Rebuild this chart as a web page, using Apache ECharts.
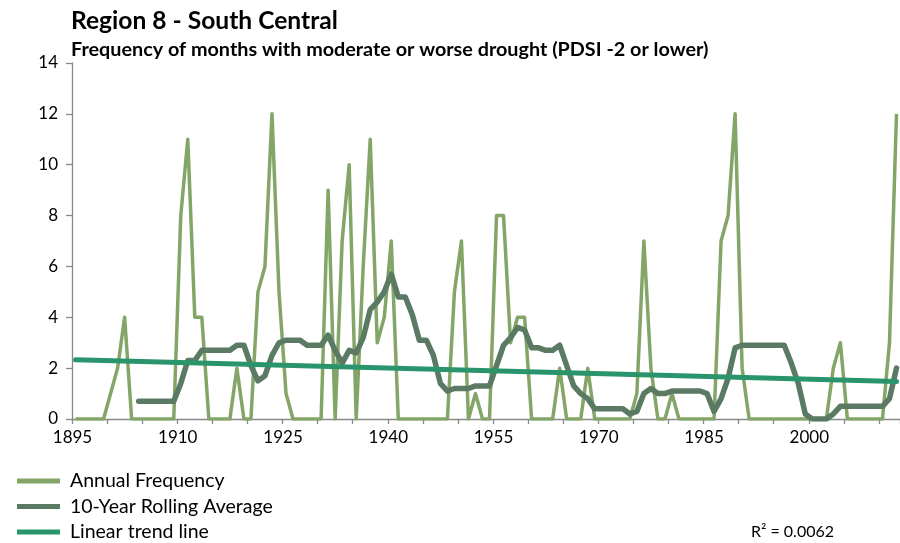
<!DOCTYPE html>
<html>
<head>
<meta charset="utf-8">
<script src="https://cdn.jsdelivr.net/npm/echarts@6/dist/echarts.min.js"></script>
<style>html,body{margin:0;padding:0;background:#fff}#chart{width:900px;height:543px}</style>
</head>
<body>
<div id="chart"></div>
<script>
// Categories: years 1895–2012
const years = [];
for (let y = 1895; y <= 2012; y++) years.push(String(y));

// Annual frequency (months with PDSI <= -2)
const annualFrequency = [
  0,0,0,0,0,1,2,4,0,0,      // 1895-1904
  0,0,0,0,0,8,11,4,4,0,     // 1905-1914
  0,0,0,2,0,0,5,6,12,5,     // 1915-1924
  1,0,0,0,0,0,9,0,7,10,     // 1925-1934
  0,6,11,3,4,7,0,0,0,0,     // 1935-1944
  0,0,0,0,5,7,0,1,0,0,      // 1945-1954
  8,8,3,4,4,0,0,0,0,2,      // 1955-1964
  0,0,0,2,0,0,0,0,0,0,      // 1965-1974
  1,7,2,0,0,1,0,0,0,0,      // 1975-1984
  0,0,7,8,12,2,0,0,0,0,     // 1985-1994
  0,0,0,0,0,0,0,0,2,3,      // 1995-2004
  0,0,0,0,0,0,3,12          // 2005-2012
];

// 10-year rolling average
const rollingAverage = [
  null,null,null,null,null,null,null,null,null,0.7,
  0.7,0.7,0.7,0.7,0.7,1.4,2.3,2.3,2.7,2.7,
  2.7,2.7,2.7,2.9,2.9,2.1,1.5,1.7,2.5,3.0,
  3.1,3.1,3.1,2.9,2.9,2.9,3.3,2.7,2.2,2.7,
  2.6,3.2,4.3,4.6,5.0,5.7,4.8,4.8,4.1,3.1,
  3.1,2.5,1.4,1.1,1.2,1.2,1.2,1.3,1.3,1.3,
  2.1,2.9,3.2,3.6,3.5,2.8,2.8,2.7,2.7,2.9,
  2.1,1.3,1.0,0.8,0.4,0.4,0.4,0.4,0.4,0.2,
  0.3,1.0,1.2,1.0,1.0,1.1,1.1,1.1,1.1,1.1,
  1.0,0.3,0.8,1.6,2.8,2.9,2.9,2.9,2.9,2.9,
  2.9,2.9,2.2,1.4,0.2,0,0,0,0.2,0.5,
  0.5,0.5,0.5,0.5,0.5,0.5,0.8,2.0
];

// Linear trend line end values (first and last year)
const trendStart = 2.33;
const trendEnd = 1.47;
const trendData = years.map((y, i) => i === 0 ? trendStart : (i === years.length - 1 ? trendEnd : null));

const seriesNames = ['Annual Frequency', '10-Year Rolling Average', 'Linear trend line'];
const rSquaredText = 'R² = 0.0062';

const FONT = 'Lato, "Liberation Sans", sans-serif';
const AXIS_GRAY = '#898989';

const chart = echarts.init(document.getElementById('chart'), null, {renderer: 'canvas'});
chart.setOption({
  animation: false,
  backgroundColor: '#ffffff',
  textStyle: {fontFamily: FONT},
  title: {
    text: 'Region 8 - South Central',
    subtext: 'Frequency of months with moderate or worse drought (PDSI -2 or lower)',
    left: 66, top: 4, itemGap: 6,
    textStyle: {fontFamily: FONT, fontSize: 24.6, fontWeight: 'bold', color: '#000'},
    subtextStyle: {fontFamily: FONT, fontSize: 19.8, fontWeight: 'bold', color: '#000'}
  },
  grid: {left: 72, right: -1, top: 63, bottom: 124, containLabel: false},
  xAxis: {
    type: 'category',
    data: years,
    boundaryGap: true,
    axisLine: {show: true, lineStyle: {color: AXIS_GRAY, width: 1.3}},
    axisTick: {show: true, interval: 4, length: 5, lineStyle: {color: AXIS_GRAY, width: 1.3}},
    axisLabel: {interval: 14, color: '#000', fontFamily: FONT, fontSize: 17, margin: 10, padding: [0, 6, 0, 0]},
    splitLine: {show: false}
  },
  yAxis: {
    type: 'value', min: 0, max: 14, interval: 2,
    axisLine: {show: true, lineStyle: {color: AXIS_GRAY, width: 1.3}},
    axisTick: {show: true, length: 6, lineStyle: {color: AXIS_GRAY, width: 1.3}},
    axisLabel: {color: '#000', fontFamily: FONT, fontSize: 17, margin: 14},
    splitLine: {show: false}
  },
  legend: {
    orient: 'vertical', left: 17, top: 470, padding: 0,
    itemWidth: 43, itemHeight: 5, itemGap: 3.5,
    icon: 'rect',
    data: seriesNames,
    textStyle: {fontFamily: FONT, fontSize: 19.5, color: '#000', lineHeight: 22, padding: [0, 0, 0, 5]}
  },
  graphic: [{
    type: 'text', left: 751, top: 524,
    style: {text: rSquaredText, font: '16px ' + FONT, fill: '#000'}
  }],
  series: [
    {
      name: seriesNames[0], type: 'line', data: annualFrequency,
      symbol: 'none', z: 2,
      lineStyle: {color: '#84A568', width: 3.5, join: 'round'},
      itemStyle: {color: '#84A568'}
    },
    {
      name: seriesNames[1], type: 'line', data: rollingAverage,
      symbol: 'none', z: 3,
      lineStyle: {color: '#5B7A63', width: 5.5, join: 'round', cap: 'round'},
      itemStyle: {color: '#5B7A63'}
    },
    {
      name: seriesNames[2], type: 'line', data: trendData, connectNulls: true,
      symbol: 'none', z: 4,
      lineStyle: {color: '#2A946C', width: 5, cap: 'round'},
      itemStyle: {color: '#2A946C'}
    }
  ]
});
</script>
</body>
</html>
